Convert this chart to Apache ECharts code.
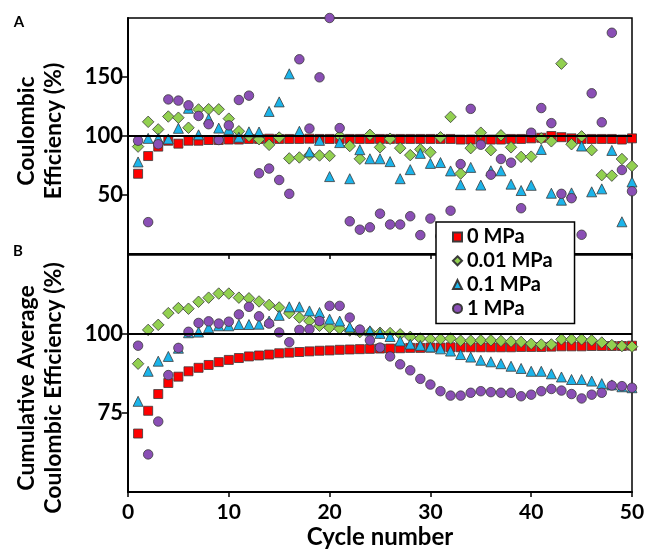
<!DOCTYPE html>
<html>
<head>
<meta charset="utf-8">
<script src="https://cdn.jsdelivr.net/npm/echarts@6/dist/echarts.min.js"></script>
<style>
html,body{margin:0;padding:0;background:#fff;}
#chart{width:648px;height:551px;}
</style>
</head>
<body>
<div id="chart"></div>
<script>
// ---------- DATA ----------
var cycles = [];
for (var c = 1; c <= 50; c++) cycles.push(c);

var seriesNames = ['0 MPa', '0.01 MPa', '0.1 MPa', '1 MPa'];

// Panel A: Coulombic efficiency (%)
var ce0 = [68,83,91,96,93.5,96,96,96.6,96.6,97,97,97.5,97.5,97.7,97.5,97.5,97.5,97.7,97.5,97.5,
  97.5,97.5,97.5,97.5,97.5,97.5,97.5,97.5,97.5,97.5,97.5,97.5,97,97,97,97,97,97.5,97.5,98,
  98.5,100,99,98,97.5,97.5,97.5,97.5,97,98];
var ce001 = [91,112,105.6,116.5,115.5,107,122.5,122.7,122.6,114.7,104,100,97.3,92.5,98.7,81,81.8,83.8,83.5,83.2,
  100,91.5,80.7,101,90.4,97.7,89.7,83.8,88.7,86.2,98.9,116.2,68.2,89.7,102.8,88,100.6,90.4,82.3,82.5,
  98,95.5,161.3,93,99.7,88,66.8,66.4,80.5,74.6];
var ce01 = [78,98,98,97.5,106.5,123.5,101,114.6,106.7,105.6,99,103.5,103.4,120.8,128.9,152.7,104,86.5,96.3,65.6,
  94.4,63.8,88.4,80.7,80.7,78.3,63.8,71.5,85.3,76.8,77.5,70.4,58.7,73.4,58.4,70.5,70.5,59.2,53.8,58.2,
  88.6,51.5,45.6,51.8,91.5,52.7,55.2,87.8,27.3,61];
var ce1 = [96,27,93,131,130,126,117,110,96.6,109,130.5,134.2,68.4,72.4,62.7,51,165,106.3,149.7,200,
  106.7,27.7,20.6,22.6,34.2,25,25,32,16,30,15,36.7,76.2,123,92.6,67.2,80.5,77.4,38.8,102.8,
  123.7,110.9,51,47.3,16.3,136.2,111.6,187.5,71.2,53.2];

// Panel B: cumulative average Coulombic efficiency (%)
var cum0 = [68.5,75.7,81,84.5,86.5,88.2,89.3,90.2,91.1,91.8,92.4,92.9,93.2,93.5,93.9,94.1,94.3,94.5,94.7,94.8,
  95,95.1,95.2,95.3,95.4,95.4,95.5,95.6,95.6,95.7,95.7,95.8,95.8,95.8,95.8,95.8,95.8,95.8,95.9,95.9,
  95.9,96,96.1,96.1,96.1,96.2,96.2,96.2,96.2,96.3];
var cum001 = [90.6,101.3,102.9,106.6,108.2,108,110.2,111.5,112.8,112.8,111.5,111.3,110.3,109.2,108.4,106.6,105.2,104.1,102.6,102,
  101.7,101.1,100.6,100.6,100.4,100.3,99.9,99.1,98.6,98.4,98.4,98.6,97.9,97.9,98,98,97.8,97.6,97.5,96.9,
  96.7,96.7,98.3,98.3,98.3,98,97.3,96.5,96.2,96];
var cum01 = [78.7,88.2,91.4,92.9,95.5,100.4,100.6,102,102.6,102.6,103,103,103.1,104.1,105.9,108.6,108.6,107.3,106.8,104.7,
  104.1,102.2,101.3,101,100.2,99.2,97.8,96.8,96.4,95.9,95.3,94.6,93.5,92.7,91.7,91.2,90.6,89.8,89.1,88.2,
  88.2,87.4,86.4,85.6,85.6,85.1,84.3,83.9,83.3,83];
var cum1 = [96.3,61.9,72.3,87,95.6,100.7,103.5,104,103.3,103.9,106.2,108.6,105.6,103.3,100.5,97.4,101.3,101.5,104.1,108.9,
  108.9,105.2,101.4,98,95.7,92.9,90.4,88.5,85.8,84,81.9,80.5,80.5,81.4,81.9,81.6,81.4,81.4,80.3,80.8,
  81.9,82.6,82.1,81,79.6,80.8,81.4,83.7,83.5,83];

var xTicks = {min: 0, max: 50, interval: 10};
var yTicksA = {min: 0, max: 200, interval: 50};
var yTicksB = {min: 50, max: 125, interval: 25};

// ---------- STYLE ----------
var colors = ['#ff0000', '#92d050', '#1cb4ea', '#8a4fb5'];
var symbols = ['rect', 'diamond', 'triangle', 'circle'];
var sizes = [9, 11.5, 10, 9.5];
var FONT = 'Lato';

function pairs(arr) { return cycles.map(function (c, i) { return [c, arr[i]]; }); }

function mkSeries(idx, arr, gi) {
  var s = {
    name: seriesNames[idx],
    type: 'scatter',
    xAxisIndex: gi, yAxisIndex: gi,
    data: pairs(arr),
    symbol: symbols[idx],
    symbolSize: sizes[idx],
    clip: false,
    itemStyle: {color: colors[idx], borderColor: '#3a3a3a', borderWidth: 0.8, opacity: 1},
    emphasis: {disabled: true}
  };
  if (idx === 0) {
    s.markLine = {
      silent: true, symbol: 'none', label: {show: false},
      lineStyle: {color: '#000', width: 2, type: 'solid'},
      data: [{yAxis: 100}]
    };
  }
  return s;
}

function xAx(gi, showLabels) {
  return {
    type: 'value', gridIndex: gi, min: xTicks.min, max: xTicks.max, interval: xTicks.interval,
    axisLine: {show: true, onZero: false, lineStyle: {color: '#000', width: 2}},
    axisTick: {show: true, inside: false, length: 5, lineStyle: {color: '#000', width: 1.5}},
    axisLabel: {show: showLabels, color: '#000', fontFamily: FONT, fontWeight: 'bold', fontSize: 21, margin: 10},
    splitLine: {show: false},
    name: showLabels ? 'Cycle number' : '',
    nameLocation: 'middle', nameGap: 33,
    nameTextStyle: {color: '#000', fontFamily: FONT, fontWeight: 'bold', fontSize: 24, verticalAlign: 'top'}
  };
}
function yAx(gi, t) {
  return {
    type: 'value', gridIndex: gi, min: t.min, max: t.max, interval: t.interval,
    axisLine: {show: true, onZero: false, lineStyle: {color: '#000', width: 2}},
    axisTick: {show: true, inside: false, length: 6, lineStyle: {color: '#000', width: 1.5}},
    axisLabel: {show: true, showMinLabel: false, showMaxLabel: false, color: '#000',
      fontFamily: FONT, fontWeight: 'bold', fontSize: 22, margin: 5},
    splitLine: {show: false}
  };
}

var option = {
  animation: false,
  backgroundColor: '#fff',
  grid: [
    {left: 128, top: 18, width: 504, height: 236, show: true, borderColor: '#000', borderWidth: 1.5, containLabel: false},
    {left: 128, top: 255, width: 504, height: 237, show: true, borderColor: '#000', borderWidth: 1.5, containLabel: false}
  ],
  xAxis: [xAx(0, false), xAx(1, true)],
  yAxis: [yAx(0, yTicksA), yAx(1, yTicksB)],
  legend: {
    orient: 'vertical', left: 436, top: 222,
    padding: [5, 22, 5, 16], itemGap: 3.8, itemWidth: 9, itemHeight: 9,
    backgroundColor: '#fff', borderColor: '#000', borderWidth: 1.5,
    selectedMode: false, z: 10,
    textStyle: {color: '#000', fontFamily: FONT, fontWeight: 'bold', fontSize: 20, lineHeight: 20},
    data: seriesNames
  },
  graphic: [
    {type: 'text', x: 40, y: 131, rotation: Math.PI / 2, z: 10,
      style: {text: 'Coulombic\nEfficiency (%)', fontFamily: FONT, fontWeight: 'bold', fontSize: 23,
        lineHeight: 27, align: 'center', verticalAlign: 'middle', textAlign: 'center', textVerticalAlign: 'middle', fill: '#000'}},
    {type: 'text', x: 40, y: 388, rotation: Math.PI / 2, z: 10,
      style: {text: 'Cumulative Average\nCoulombic Efficiency (%)', fontFamily: FONT, fontWeight: 'bold', fontSize: 23,
        lineHeight: 27, align: 'center', verticalAlign: 'middle', textAlign: 'center', textVerticalAlign: 'middle', fill: '#000'}},
    {type: 'text', x: 19, y: 22, z: 10,
      style: {text: 'A', fontFamily: FONT, fontWeight: 'bold', fontSize: 15, align: 'center', verticalAlign: 'middle',
        textAlign: 'center', textVerticalAlign: 'middle', fill: '#000'}},
    {type: 'text', x: 18, y: 251, z: 10,
      style: {text: 'B', fontFamily: FONT, fontWeight: 'bold', fontSize: 15, align: 'center', verticalAlign: 'middle',
        textAlign: 'center', textVerticalAlign: 'middle', fill: '#000'}}
  ],
  series: [
    mkSeries(0, ce0, 0), mkSeries(1, ce001, 0), mkSeries(2, ce01, 0), mkSeries(3, ce1, 0),
    mkSeries(0, cum0, 1), mkSeries(1, cum001, 1), mkSeries(2, cum01, 1), mkSeries(3, cum1, 1)
  ]
};

var chart = echarts.init(document.getElementById('chart'), null, {renderer: 'canvas'});
chart.setOption(option);
</script>
</body>
</html>
